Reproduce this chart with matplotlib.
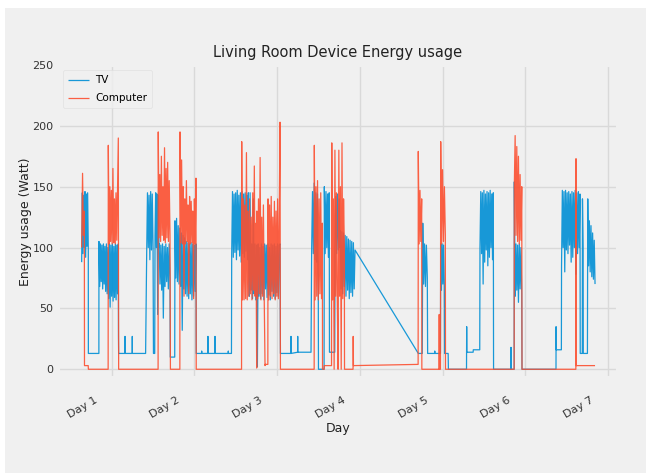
import numpy as np
import matplotlib
matplotlib.use('Agg')
import matplotlib.pyplot as plt
from matplotlib.patches import Rectangle

# x values are in days (Day 1 = 1.0), y values in Watt

# TV: flat / standby stretches and single spikes
tv_sparse_t = [0.718, 0.845,
               1.082, 1.084, 1.160, 1.161, 1.162, 1.248, 1.249, 1.250, 1.410,
               1.505, 1.520, 1.708, 1.762,
               2.022, 2.087, 2.088, 2.089, 2.163, 2.164, 2.165, 2.248, 2.249, 2.250,
               2.409, 2.410, 2.411, 2.448,
               3.040, 3.167, 3.168, 3.169, 3.248, 3.249, 3.250, 3.410,
               3.500, 3.568, 3.633, 3.697,
               4.707, 4.755, 4.820, 4.905, 4.906, 4.907, 4.975,
               5.025, 5.068, 5.071, 5.290, 5.292, 5.294, 5.370, 5.372, 5.450,
               5.617, 5.827, 5.828, 5.829, 5.866,
               5.961, 6.372, 6.373, 6.374, 6.437,
               6.665, 6.690, 6.692, 6.700, 6.702, 6.752]
tv_sparse_w = [13, 13,
               27, 13, 13, 27, 13, 13, 27, 13, 13,
               13, 13, 10, 10,
               13, 13, 15, 13, 13, 27, 13, 13, 27, 13,
               13, 15, 13, 13,
               13, 13, 27, 13, 14, 27, 14, 14,
               0, 0, 14, 14,
               13, 13, 13, 13, 15, 13, 13,
               13, 13, 0, 0, 35, 14, 14, 16, 16,
               0, 0, 18, 0, 0,
               0, 0, 35, 16, 16,
               13, 13, 140, 100, 13, 13]

# TV: periods in use (start day, end day, readings)
tv_dense = [
    (0.637, 0.717, [88, 145, 95, 143, 100, 146, 92, 144, 101, 145, 98]),
    (0.846, 1.080, [105, 68, 103, 72, 102, 66, 103, 70, 101, 64, 103, 62, 100, 58,
                    103, 51, 102, 60, 103, 56, 101, 59, 103, 57, 102, 62, 103]),
    (1.423, 1.500, [95, 145, 100, 143, 90, 146, 98, 144, 100]),
    (1.524, 1.572, [110, 145, 100, 144, 45, 143, 100]),
    (1.574, 1.705, [103, 70, 102, 65, 103, 42, 101, 68, 103, 72, 100, 66, 103, 75]),
    (1.765, 2.019, [122, 75, 124, 72, 118, 70, 116, 68, 112, 32, 110, 66, 108, 62,
                    105, 60, 104, 58, 103, 62, 104, 57, 103, 60, 102, 64, 103]),
    (2.451, 2.652, [95, 146, 92, 144, 96, 145, 90, 147, 98, 143, 93, 145, 88, 146,
                    95, 144, 92, 145, 97, 143, 90, 145]),
    (2.654, 3.035, [103, 60, 145, 65, 103, 58, 140, 62, 103, 57, 102, 2, 103, 60,
                    100, 58, 103, 62, 101, 57, 103, 66, 102, 59, 103, 61, 100, 57,
                    103, 64, 102, 60, 103, 58, 101, 63, 103, 60, 102, 103]),
    (3.418, 3.498, [100, 146, 95, 153, 90, 145, 88, 144, 57]),
    (3.571, 3.630, [150, 95, 146, 100, 144, 92, 145]),
    (3.700, 3.761, [100, 142, 95, 144, 98, 140, 100]),
    (3.763, 3.942, [114, 66, 113, 62, 112, 68, 110, 60, 109, 65, 107, 58, 106, 63,
                    105, 60, 104, 66, 98]),
    (4.761, 4.816, [120, 70, 103, 68, 102, 75]),
    (4.978, 5.022, [103, 65, 103, 70, 102, 68]),
    (5.453, 5.614, [100, 146, 95, 145, 70, 147, 88, 144, 98, 146, 85, 145, 92, 147,
                    100, 144, 90, 145]),
    (5.868, 5.958, [154, 60, 103, 65, 102, 55, 103, 66, 100, 62]),
    (6.439, 6.662, [85, 147, 100, 146, 80, 147, 98, 145, 95, 146, 102, 144, 88, 146,
                    92, 145, 100, 147, 78, 145, 95, 146, 100, 144]),
    (6.756, 6.844, [140, 85, 122, 80, 118, 76, 112, 74, 106, 70]),
]

# Computer
pc_sparse_t = [0.671, 0.716, 0.718, 0.957,
               1.084, 1.561, 1.710, 1.824,
               2.022, 2.570, 2.856, 2.888,
               3.040, 3.448, 3.549, 3.569, 3.571, 3.658,
               3.815, 3.918, 3.920, 3.923, 4.705,
               4.750, 4.958, 4.960, 4.962, 4.975,
               5.036, 5.866, 5.961, 6.612, 6.614, 6.616, 6.844]
pc_sparse_w = [3, 3, 0, 0,
               0, 0, 0, 0,
               0, 0, 4, 4,
               0, 0, 0, 0, 3, 3,
               0, 0, 27, 3, 4,
               0, 0, 45, 0, 0,
               0, 0, 0, 0, 173, 3, 3]

pc_dense = [
    (0.637, 0.669, [100, 161, 110, 130]),
    (0.959, 1.080, [184, 103, 150, 105, 147, 103, 165, 104, 140, 103, 145, 106, 148, 190]),
    (1.563, 1.705, [195, 108, 160, 105, 175, 110, 150, 106, 182, 104, 165, 108, 170, 105,
                    155, 110]),
    (1.826, 2.019, [195, 104, 172, 103, 150, 60, 140, 103, 155, 105, 135, 62, 142, 103,
                    138, 104, 130, 58, 140, 103, 157]),
    (2.572, 2.753, [187, 57, 140, 57, 135, 58, 178, 57, 130, 60, 140, 62, 125, 57, 145,
                    65, 167, 60, 120, 1]),
    (2.755, 2.854, [130, 58, 140, 62, 174, 57, 125, 60, 135, 58, 3]),
    (2.890, 3.035, [140, 57, 135, 60, 142, 58, 125, 62, 138, 57, 130, 60, 140, 58, 120, 203]),
    (3.450, 3.547, [184, 57, 150, 60, 155, 57, 140, 62, 145, 58, 120]),
    (3.661, 3.813, [186, 57, 140, 0, 180, 60, 145, 57, 0, 180, 60, 150, 0, 186, 58, 140, 100]),
    (4.707, 4.748, [179, 103, 147, 105, 140]),
    (4.978, 5.034, [187, 103, 164, 105, 150, 110]),
    (5.868, 5.958, [150, 192, 110, 183, 105, 175, 103, 160, 106, 150]),
]

day_ticks = [1, 2, 3, 4, 5, 6, 7]
day_labels = ['Day 1', 'Day 2', 'Day 3', 'Day 4', 'Day 5', 'Day 6', 'Day 7']


def build(sparse_t, sparse_w, dense):
    # merge flat stretches and in-use periods into one time ordered series
    t = list(sparse_t)
    w = list(sparse_w)
    for t0, t1, vals in dense:
        t.extend(np.linspace(t0, t1, len(vals)))
        w.extend(vals)
    order = np.argsort(t, kind='stable')
    return np.array(t)[order], np.array(w)[order]


tv_t, tv_w = build(tv_sparse_t, tv_sparse_w, tv_dense)
pc_t, pc_w = build(pc_sparse_t, pc_sparse_w, pc_dense)

plt.style.use('fivethirtyeight')
plt.rcParams['font.family'] = ['DejaVu Sans']

fig = plt.figure(figsize=(6.46, 4.73), dpi=100)
fig.patch.set_facecolor('white')
fig.patches.append(Rectangle((5 / 646, 0), 641 / 646, 465 / 473,
                             transform=fig.transFigure, facecolor='#f0f0f0',
                             edgecolor='none', zorder=-1))

ax = fig.add_axes([0.0893, 0.2008, 0.8674, 0.6618])
ax.plot(tv_t, tv_w, color='#008fd5', lw=0.9, alpha=0.9, label='TV')
ax.plot(pc_t, pc_w, color='#fc4f30', lw=0.9, alpha=0.9, label='Computer')

ax.set_xlim(0.347, 7.122)
ax.set_ylim(-7.2, 250)
ax.set_yticks([0, 50, 100, 150, 200, 250])
ax.tick_params(axis='y', labelsize=8, pad=3, colors='#333333')

# grid lines on the day ticks, labels shifted a little to the left
ax.set_xticks(day_ticks)
ax.set_xticklabels([''] * len(day_ticks))
ax.set_xticks(np.array(day_ticks) - 0.155, minor=True)
ax.set_xticklabels(day_labels, minor=True, rotation=30, ha='right', fontsize=8,
                   color='#333333')
ax.tick_params(axis='x', which='minor', length=0, pad=12)
ax.grid(True, which='major', color='#d9d9d9', lw=1.0)
ax.grid(False, which='minor')

ax.set_title('Living Room Device Energy usage', fontsize=10.5, pad=6, color='#222222')
ax.set_xlabel('Day', fontsize=9, labelpad=2, color='#222222')
ax.set_ylabel('Energy usage (Watt)', fontsize=9, labelpad=0, color='#222222')

leg = ax.legend(loc='upper left', fontsize=7.5, frameon=True, borderpad=0.5,
                handlelength=2.0, handletextpad=0.6, labelspacing=0.75)
leg.get_frame().set_facecolor('#f0f0f0')
leg.get_frame().set_edgecolor('#dddddd')

fig.savefig('out.png', dpi=100, facecolor=fig.get_facecolor())
